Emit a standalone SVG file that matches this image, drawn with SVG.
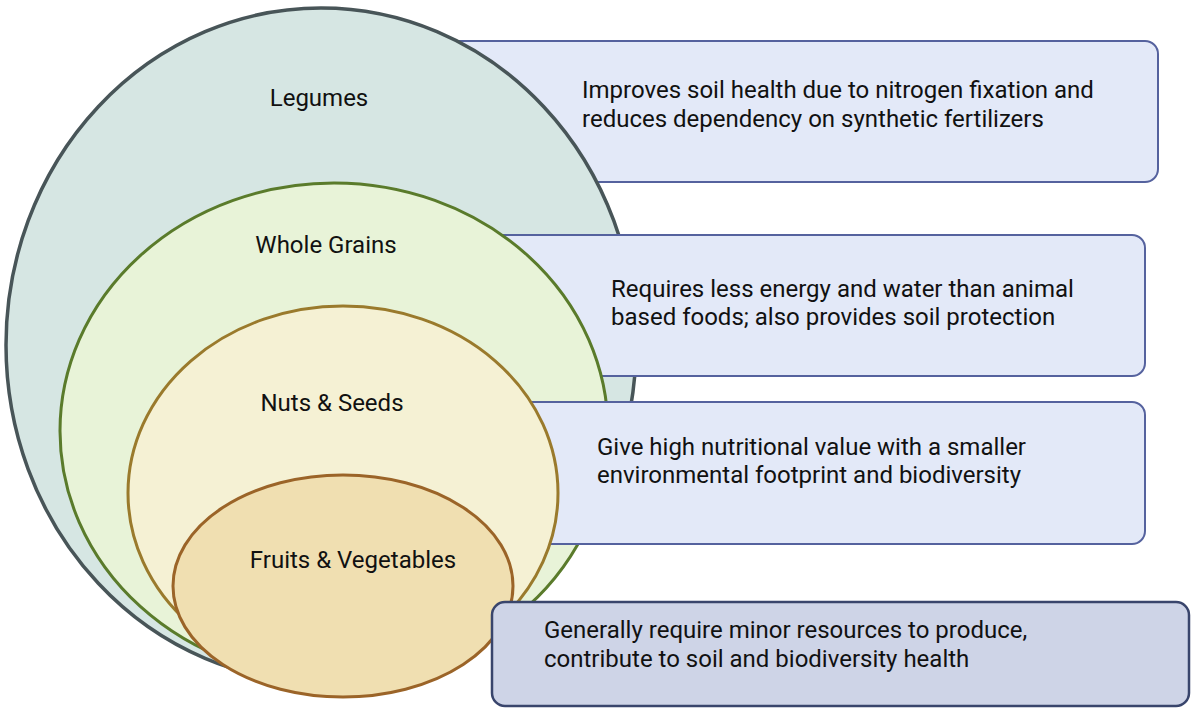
<svg xmlns="http://www.w3.org/2000/svg" width="1200" height="715" viewBox="0 0 1200 715">
<style>
text{font-family:Roboto,"Liberation Sans",sans-serif;fill:#111;}
.lbl{font-size:24px;text-anchor:middle;}
.desc{font-size:24px;}
.box{fill:#e3e9f8;stroke:#55629e;stroke-width:2;}
.box4{fill:#ced4e7;stroke:#39456c;stroke-width:2.5;}
</style>
<rect width="1200" height="715" fill="#ffffff"/>
<g id="box-legumes"><rect class="box" x="430" y="41" width="728" height="141" rx="13"/></g>
<g id="legumes"><ellipse cx="321" cy="345" rx="315" ry="337" fill="#d6e6e3" stroke="#485558" stroke-width="3.5"/></g>
<g id="box-grains"><rect class="box" x="430" y="235" width="715" height="141" rx="13"/></g>
<g id="grains"><ellipse cx="334" cy="431" rx="274" ry="248" fill="#e8f3d8" stroke="#5a7b2b" stroke-width="3"/></g>
<g id="box-nuts"><rect class="box" x="430" y="402" width="715" height="142" rx="13"/></g>
<g id="nuts"><ellipse cx="343" cy="493" rx="215" ry="187" fill="#f5f1d4" stroke="#9a7a2c" stroke-width="3"/></g>
<g id="fruits"><ellipse cx="343" cy="586" rx="170" ry="111" fill="#f0dfb1" stroke="#9b6428" stroke-width="3"/></g>
<g id="box-fruits"><rect class="box4" x="492" y="602" width="697" height="104" rx="13"/></g>
<g id="labels">
<text class="lbl" x="319" y="106">Legumes</text>
<text class="lbl" x="326" y="253">Whole Grains</text>
<text class="lbl" x="332" y="411">Nuts &amp; Seeds</text>
<text class="lbl" x="353" y="568">Fruits &amp; Vegetables</text>
</g>
<g id="descriptions">
<text class="desc" x="582" y="98">Improves soil health due to nitrogen fixation and</text>
<text class="desc" x="582" y="127">reduces dependency on synthetic fertilizers</text>
<text class="desc" x="611" y="297">Requires less energy and water than animal</text>
<text class="desc" x="611" y="325">based foods; also provides soil protection</text>
<text class="desc" x="597" y="455">Give high nutritional value with a smaller</text>
<text class="desc" x="597" y="483">environmental footprint and biodiversity</text>
<text class="desc" x="544" y="638">Generally require minor resources to produce,</text>
<text class="desc" x="544" y="667">contribute to soil and biodiversity health</text>
</g>
</svg>
